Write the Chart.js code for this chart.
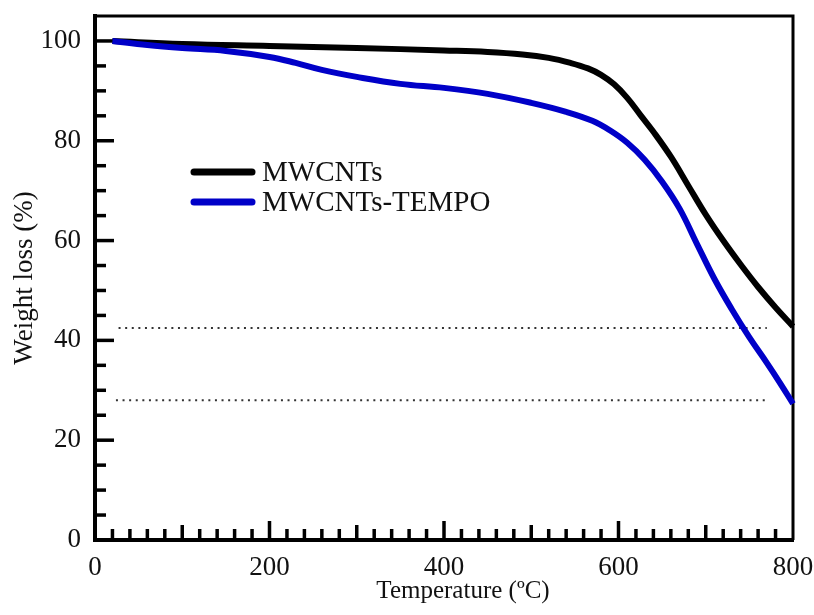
<!DOCTYPE html>
<html>
<head>
<meta charset="utf-8">
<script src="https://cdn.jsdelivr.net/npm/chart.js@4.4.0/dist/chart.umd.min.js"></script>
<style>
  html, body { margin: 0; padding: 0; background: #fff; }
</style>
</head>
<body>
<canvas id="tgaChart" width="814" height="615"></canvas>
<script>
/* =========================================================
   DATA
========================================================= */
const tempMWCNT = [20, 100, 200, 300, 400, 450, 490, 520, 545, 565, 580, 595, 610, 625, 640, 660, 680, 700, 720, 740, 760, 780, 800];
const lossMWCNT = [100, 99.4, 99.0, 98.6, 98.1, 97.8, 97.3, 96.6, 95.6, 94.5, 93.2, 91.3, 88.6, 85.2, 81.8, 76.8, 71.0, 65.2, 60.0, 55.2, 50.7, 46.6, 42.8];

const tempTEMPO = [20, 60, 100, 150, 200, 230, 260, 300, 350, 400, 450, 500, 540, 570, 590, 610, 630, 650, 670, 690, 710, 730, 750, 770, 785, 800];
const lossTEMPO = [100, 99.2, 98.6, 98.0, 96.8, 95.6, 94.2, 92.8, 91.4, 90.6, 89.4, 87.6, 85.8, 84.0, 82.1, 79.6, 76.2, 71.8, 66.4, 59.3, 52.3, 46.2, 40.6, 35.5, 31.5, 27.3];

// dotted reference levels
const refLevels = [42.5, 28];
const refStart = [27, 24];
const refEnd = [770, 768];

const seriesNames = ["MWCNTs", "MWCNTs-TEMPO"];
const xTickValues = [0, 200, 400, 600, 800];
const yTickValues = [0, 20, 40, 60, 80, 100];

const SERIF = "'Liberation Serif', 'Times New Roman', serif";
const BLUE = "#0000c8";

/* --- helpers --- */
function toPoints(xs, ys) {
    return xs.map((t, i) => ({ x: t, y: ys[i] }));
}

/* =========================================================
   FRAME, INWARD TICKS, LEGEND, X TITLE
========================================================= */
const frameTicks = {
    id: "frameTicks",
    beforeDatasetsDraw(chart) {
        const { ctx, chartArea: a, scales: { x, y } } = chart;
        ctx.save();
        ctx.strokeStyle = "#000";
        ctx.lineWidth = 3.5;

        // x minor / major ticks, pointing up into the plot
        for (let v = 20; v < 800; v += 20) {
            const px = x.getPixelForValue(v);
            const len = v % 200 === 0 ? 19 : (v % 100 === 0 ? 15 : 11);
            ctx.beginPath();
            ctx.moveTo(px, a.bottom);
            ctx.lineTo(px, a.bottom - len);
            ctx.stroke();
        }
        // y ticks, pointing right
        for (let v = 5; v <= 100; v += 5) {
            const py = y.getPixelForValue(v);
            const len = v % 20 === 0 ? 19 : 11;
            ctx.beginPath();
            ctx.moveTo(a.left, py);
            ctx.lineTo(a.left + len, py);
            ctx.stroke();
        }

        // top and right border
        ctx.lineWidth = 3;
        ctx.beginPath();
        ctx.moveTo(a.left, a.top);
        ctx.lineTo(a.right, a.top);
        ctx.lineTo(a.right, a.bottom);
        ctx.stroke();
        ctx.restore();
    },
    afterDraw(chart) {
        const { ctx } = chart;
        ctx.save();
        // legend
        const colors = ["#000", BLUE];
        const rows = [172, 202];
        ctx.lineCap = "round";
        ctx.lineWidth = 7;
        ctx.font = "29px " + SERIF;
        ctx.textBaseline = "middle";
        ctx.fillStyle = "#111";
        seriesNames.forEach((name, i) => {
            ctx.strokeStyle = colors[i];
            ctx.beginPath();
            ctx.moveTo(194, rows[i]);
            ctx.lineTo(252, rows[i]);
            ctx.stroke();
            ctx.fillText(name, 262, rows[i] + 1);
        });

        // x axis title (sits a little right of centre in the original)
        ctx.font = "25px " + SERIF;
        ctx.textAlign = "center";
        ctx.fillText("Temperature (ºC)", 463, 591);
        ctx.restore();
    }
};

/* =========================================================
   CHART
========================================================= */
const datasets = [
    {
        label: seriesNames[1],
        data: toPoints(tempTEMPO, lossTEMPO),
        borderColor: BLUE,
        borderWidth: 6,
        pointRadius: 0,
        tension: 0.4,
        clip: false
    },
    {
        label: seriesNames[0],
        data: toPoints(tempMWCNT, lossMWCNT),
        borderColor: "#000",
        borderWidth: 6,
        pointRadius: 0,
        tension: 0.4,
        clip: false
    }
];

refLevels.forEach((lvl, i) => {
    datasets.push({
        label: "ref" + i,
        data: [{ x: refStart[i], y: lvl }, { x: refEnd[i], y: lvl }],
        borderColor: "#333",
        borderWidth: 2,
        borderDash: [2, 4.6],
        pointRadius: 0
    });
});

new Chart(document.getElementById("tgaChart"), {
    type: "line",
    data: { datasets },
    plugins: [frameTicks],
    options: {
        responsive: false,
        animation: false,
        layout: { padding: { top: 16, right: 21, left: 0, bottom: 0 } },
        plugins: {
            legend: { display: false },
            tooltip: { enabled: false }
        },
        scales: {
            x: {
                type: "linear",
                min: 0,
                max: 800,
                afterFit: s => {
                    s.height = 75;
                    s.paddingLeft = 0;
                    s.paddingRight = 0;
                },
                afterBuildTicks: s => { s.ticks = xTickValues.map(v => ({ value: v })); },
                grid: { display: false },
                border: { display: true, color: "#000", width: 4 },
                ticks: {
                    padding: 4,
                    color: "#111",
                    maxRotation: 0,
                    font: { family: SERIF, size: 27 }
                },
                title: { display: false }
            },
            y: {
                min: 0,
                max: 105,
                afterFit: s => {
                    s.width = 95;
                    s.paddingTop = 0;
                    s.paddingBottom = 0;
                },
                afterBuildTicks: s => { s.ticks = yTickValues.map(v => ({ value: v })); },
                grid: { display: false },
                border: { display: true, color: "#000", width: 4 },
                ticks: {
                    padding: 6,
                    color: "#111",
                    font: { family: SERIF, size: 27 }
                },
                title: {
                    display: true,
                    text: "Weight loss (%)",
                    color: "#111",
                    padding: { top: 9, bottom: 0 },
                    font: { family: SERIF, size: 27 }
                }
            }
        }
    }
});
</script>
</body>
</html>
